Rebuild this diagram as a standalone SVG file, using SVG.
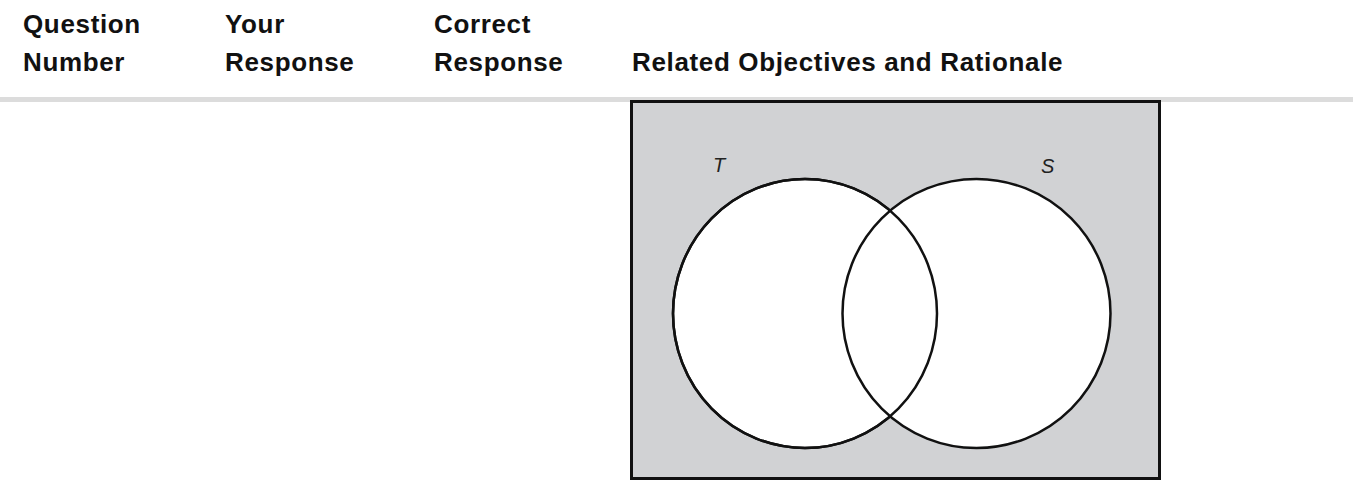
<svg xmlns="http://www.w3.org/2000/svg" width="1353" height="497" viewBox="0 0 1353 497">
  <style>
    .hdr { font-family: "Liberation Sans", Arial, sans-serif; font-weight: bold; font-size: 26px; letter-spacing: 0.65px; fill: #111; }
    .lbl { font-family: "Liberation Sans", Arial, sans-serif; font-style: italic; font-size: 20px; fill: #222; }
    .set { fill: #ffffff; stroke: #111; stroke-width: 2.5; }
  </style>
  <rect width="1353" height="497" fill="#ffffff"/>
  <g id="header">
    <text class="hdr" x="23" y="33">Question</text>
    <text class="hdr" x="23" y="71">Number</text>
    <text class="hdr" x="225" y="33">Your</text>
    <text class="hdr" x="225" y="71">Response</text>
    <text class="hdr" x="434" y="33">Correct</text>
    <text class="hdr" x="434" y="71">Response</text>
    <text class="hdr" x="632" y="71">Related Objectives and Rationale</text>
  </g>
  <rect id="divider" x="0" y="97" width="1353" height="5" fill="#dcdcdc"/>
  <g id="universe">
    <rect x="631.5" y="101.5" width="528" height="377" fill="#d1d2d4" stroke="#111" stroke-width="3"/>
  </g>
  <g id="set-T">
    <ellipse class="set" cx="805" cy="313.5" rx="132" ry="134.5"/>
  </g>
  <g id="set-S">
    <ellipse class="set" cx="976.5" cy="313.5" rx="134" ry="134.5"/>
  </g>
  <g id="overlap-outline">
    <ellipse cx="805" cy="313.5" rx="132" ry="134.5" fill="none" stroke="#111" stroke-width="2.5"/>
  </g>
  <text class="lbl" x="713" y="172">T</text>
  <text class="lbl" x="1041" y="173">S</text>
</svg>
